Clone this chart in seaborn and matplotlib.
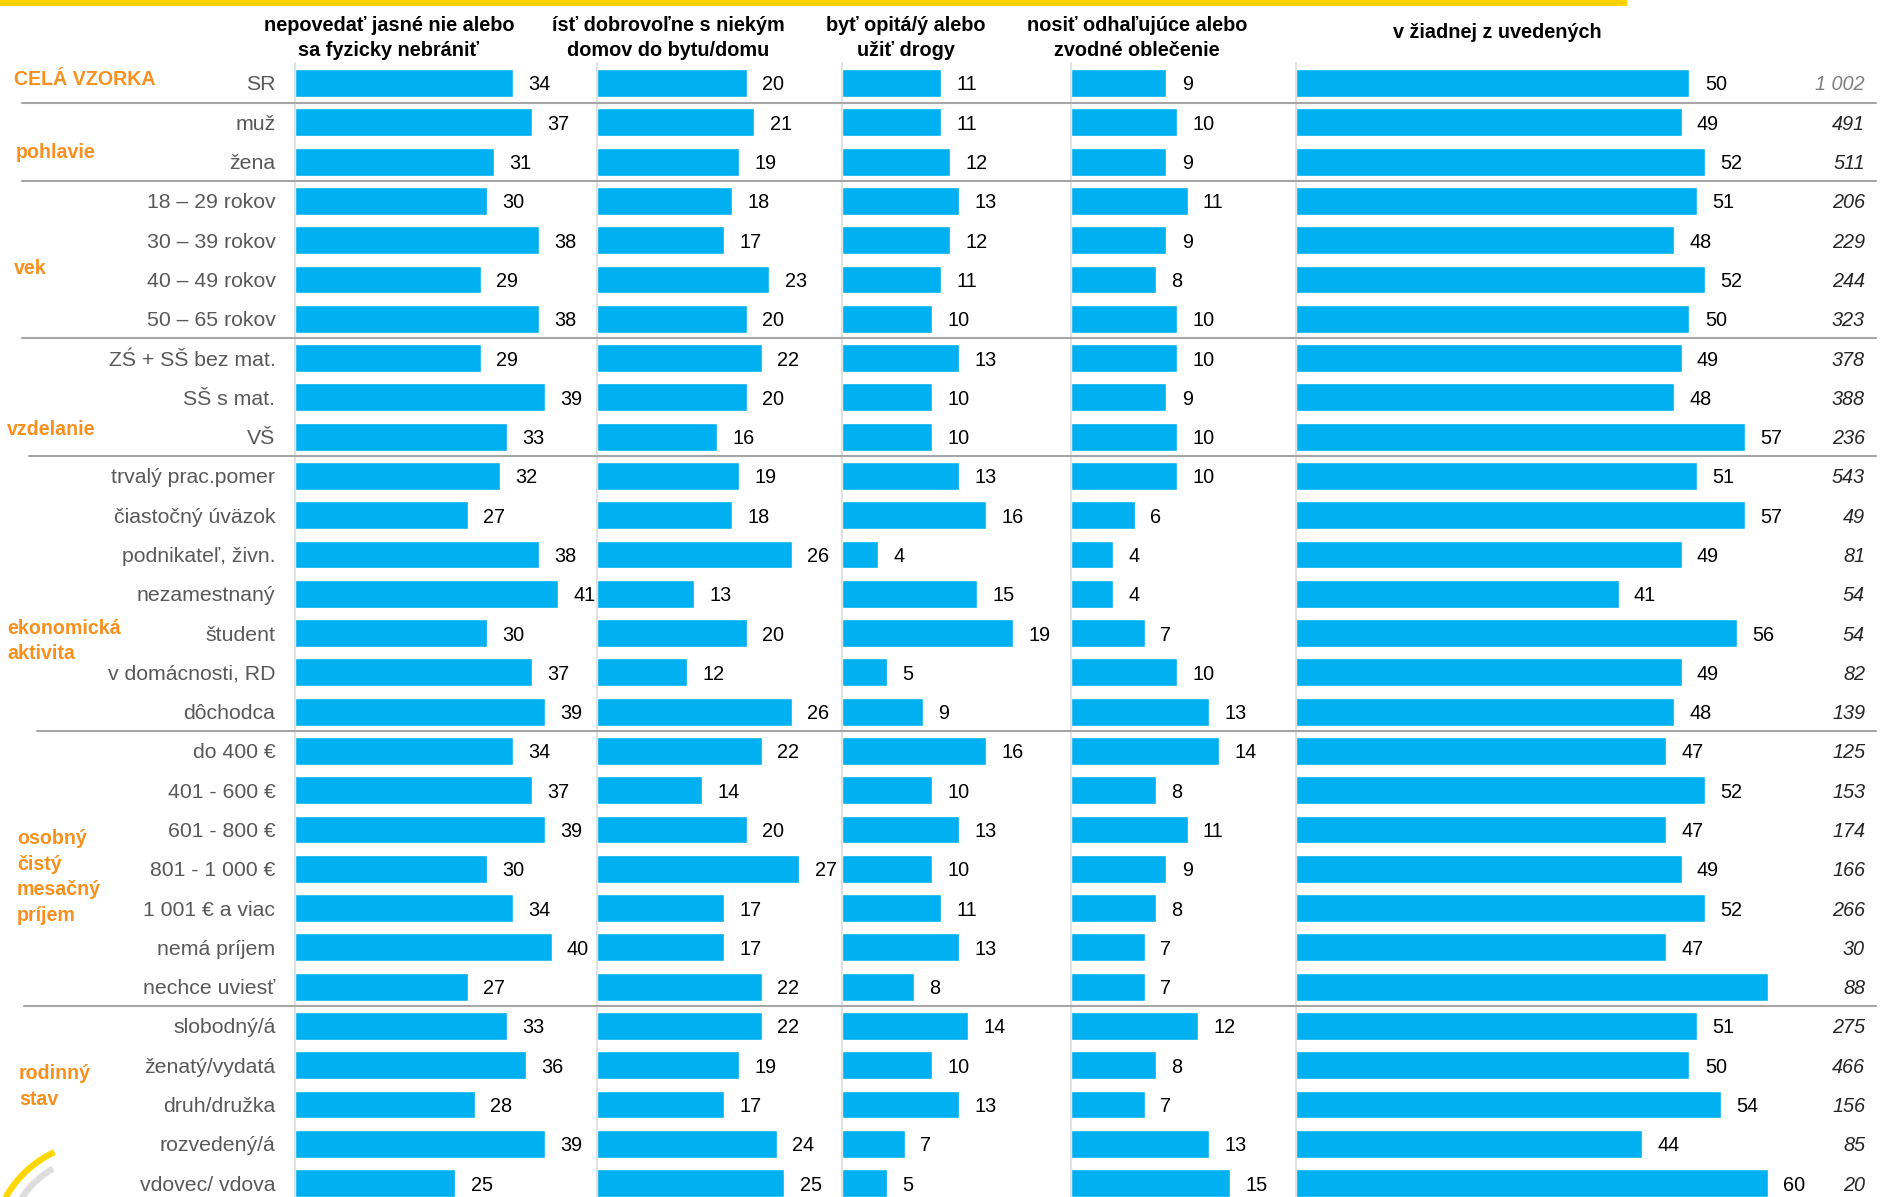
import numpy as np
import pandas as pd
import seaborn as sns
import matplotlib.pyplot as plt
import matplotlib.transforms as mtransforms
from matplotlib.patches import Arc, Rectangle

# data
categories = ['SR', 'muž', 'žena', '18 – 29 rokov', '30 – 39 rokov', '40 – 49 rokov',
              '50 – 65 rokov', 'ZŚ + SŠ bez mat.', 'SŠ s mat.', 'VŠ', 'trvalý prac.pomer',
              'čiastočný úväzok', 'podnikateľ, živn.', 'nezamestnaný', 'študent',
              'v domácnosti, RD', 'dôchodca', 'do 400 €', '401 - 600 €', '601 - 800 €',
              '801 - 1 000 €', '1 001 € a viac', 'nemá príjem', 'nechce uviesť',
              'slobodný/á', 'ženatý/vydatá', 'druh/družka', 'rozvedený/á', 'vdovec/ vdova']

nebranit = [34, 37, 31, 30, 38, 29, 38, 29, 39, 33, 32, 27, 38, 41, 30, 37, 39,
            34, 37, 39, 30, 34, 40, 27, 33, 36, 28, 39, 25]
domov = [20, 21, 19, 18, 17, 23, 20, 22, 20, 16, 19, 18, 26, 13, 20, 12, 26,
         22, 14, 20, 27, 17, 17, 22, 22, 19, 17, 24, 25]
opita = [11, 11, 12, 13, 12, 11, 10, 13, 10, 10, 13, 16, 4, 15, 19, 5, 9,
         16, 10, 13, 10, 11, 13, 8, 14, 10, 13, 7, 5]
oblecenie = [9, 10, 9, 11, 9, 8, 10, 10, 9, 10, 10, 6, 4, 4, 7, 10, 13,
             14, 8, 11, 9, 8, 7, 7, 12, 8, 7, 13, 15]
ziadna = [50, 49, 52, 51, 48, 52, 50, 49, 48, 57, 51, 57, 49, 41, 56, 49, 48,
          47, 52, 47, 49, 52, 47, 60, 51, 50, 54, 44, 60]
ziadna_hidden = [23]   # bar without a value label in the original

n_resp = ['1 002', '491', '511', '206', '229', '244', '323', '378', '388', '236',
          '543', '49', '81', '54', '54', '82', '139', '125', '153', '174', '166',
          '266', '30', '88', '275', '466', '156', '85', '20']

headers = ['nepovedať jasné nie alebo\nsa fyzicky nebrániť',
           'ísť dobrovoľne s niekým\ndomov do bytu/domu',
           'byť opitá/ý alebo\nužiť drogy',
           'nosiť odhaľujúce alebo\nzvodné oblečenie',
           'v žiadnej z uvedených']

groups = ['CELÁ VZORKA', 'pohlavie', 'vek', 'vzdelanie', 'ekonomická\naktivita',
          'osobný\nčistý\nmesačný\npríjem', 'rodinný\nstav']
group_rows = [-0.1, 1.78, 4.73, 8.81, 14.2, 20.21, 25.54]
group_x = [14, 16, 14, 7, 7, 17, 19]
group_ends = [0, 2, 6, 9, 16, 23]   # last row of each block -> separator below
sep_x = [22, 22, 22, 29, 37, 24]

W, H = 1881, 1197
BLUE = '#00B0F0'
ORANGE = '#F7901E'

sns.set_style('white')
plt.rcParams['font.family'] = ['Liberation Sans', 'DejaVu Sans']

fig = plt.figure(figsize=(W / 100, H / 100), dpi=100)

# panel geometry in pixels (left edge, right edge)
lefts = [294.5, 597, 842, 1071, 1296]
rights = [597, 842, 1071, 1296, 1876]
scales = [6.43, 7.5, 9.0, 10.6, 7.87]   # px per percentage point
top_px = 63
y0 = (top_px - 83) / 39.29
y1 = (H - 83) / 39.29

series = [nebranit, domov, opita, oblecenie, ziadna]
axes = []
for i, vals in enumerate(series):
    ax = fig.add_axes([lefts[i] / W, 0, (rights[i] - lefts[i]) / W, 1 - top_px / H])
    df = pd.DataFrame({'kat': categories, 'val': vals})
    sns.barplot(data=df, x='val', y='kat', orient='h', color=BLUE, saturation=1,
                width=0.71, ax=ax)
    ax.set_xlim(0, (rights[i] - lefts[i]) / scales[i])
    ax.set_ylim(y1, y0)
    ax.set_xlabel('')
    ax.set_ylabel('')
    ax.set_xticks([])
    for s in ['top', 'right', 'bottom']:
        ax.spines[s].set_visible(False)
    ax.spines['left'].set_color('#D9D9D9')
    ax.spines['left'].set_linewidth(1.1)
    labels = [str(v) for v in vals]
    if i == 4:
        for k in ziadna_hidden:
            labels[k] = ''
    txts = ax.bar_label(ax.containers[0], labels=labels, padding=11, fontsize=14.3,
                        color='black')
    for t in txts:
        t.set_va('center_baseline')
    if i == 0:
        ax.tick_params(axis='y', length=0, pad=13.7, labelsize=15.3, labelcolor='#595959')
    else:
        ax.set_yticks([])
    axes.append(ax)

# headers
head_x = [389, 668, 906, 1137, 1497]
for j, txt in enumerate(headers):
    yy = 33 if j == 4 else 38
    fig.text(head_x[j] / W, 1 - yy / H, txt, ha='center', va='center', fontsize=14.3,
             fontweight='bold', linespacing=1.45, color='black')

# group labels and separators
tr = mtransforms.blended_transform_factory(fig.transFigure, axes[0].transData)
for g, r, gx in zip(groups, group_rows, group_x):
    fig.text(gx / W, r, g, transform=tr, ha='left', va='center', fontsize=14.1,
             fontweight='bold', color=ORANGE, linespacing=1.45)
for e, sx in zip(group_ends, sep_x):
    fig.add_artist(plt.Line2D([sx / W, 1876 / W], [e + 0.5, e + 0.5], transform=tr,
                              color='#A6A6A6', lw=1.5))

# respondent counts
for k, n in enumerate(n_resp):
    fig.text(1865 / W, k, n, transform=tr, ha='right', va='center_baseline', fontsize=14.3,
             style='italic', color='#7F7F7F' if k == 0 else '#262626')

# yellow band at the top
fig.add_artist(Rectangle((0, 1 - 6 / H), 1627 / W, 6 / H, transform=fig.transFigure,
                         color='#FFD200', lw=0))

# logo arcs at the bottom left
lx = fig.add_axes([0, 0, 1, 1], zorder=-1)
lx.set_xlim(0, W)
lx.set_ylim(0, H)
lx.axis('off')
lx.add_patch(Arc((100, -53), 216, 216, theta1=115, theta2=151, color='#FFD700', lw=4.5))
lx.add_patch(Arc((100, -53), 188, 188, theta1=120, theta2=150, color='#DDDDDD', lw=4.5))

fig.savefig('out.png', dpi=100)
